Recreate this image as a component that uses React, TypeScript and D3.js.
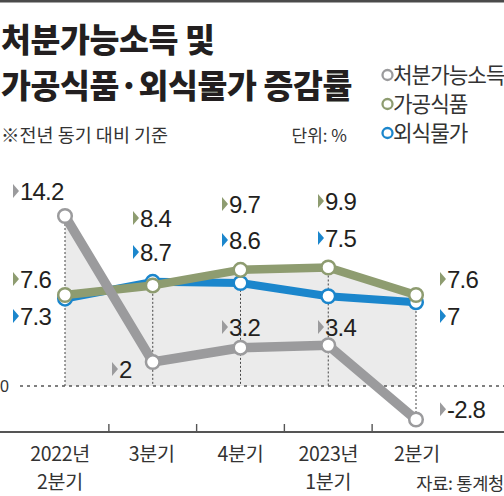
import React from "react";
import * as d3 from "d3";

// ---- data ----
const categoryKeys = ["2022Q2", "2022Q3", "2022Q4", "2023Q1", "2023Q2"];
const categoryLabels = [["2022년", "2분기"], ["3분기"], ["4분기"], ["2023년", "1분기"], ["2분기"]];
const incomeValues = [14.2, 2, 3.2, 3.4, -2.8];
const processedFoodValues = [7.6, 8.4, 9.7, 9.9, 7.6];
const diningOutValues = [7.3, 8.7, 8.6, 7.5, 7];
const seriesNames = ["처분가능소득", "가공식품", "외식물가"];
const titleLines = ["처분가능소득 및", "가공식품·외식물가 증감률"];
const subtitle = "※전년 동기 대비 기준";
const unitText = "단위: %";
const sourceText = "자료: 통계청";

// ---- layout (label offsets relative to each point: [dx, baseline dy]) ----
const incomeLabelOffsets = [[-52, -16], [-40.75, 16], [-18.5, -11.7], [-10.25, -9.3], [24, -1.2]];
const processedLabelOffsets = [[-52, -7], [-19.75, -58.4], [-18.5, -56.9], [-10.25, -57.5], [24, -7]];
const diningLabelOffsets = [[-52, 26.4], [-19.75, -20.8], [-18.5, -34], [-10.25, -49.2], [24, 22.8]];
const categoryLabelDx = [-5, -1, 0, 0, 1];

const KR = "'Noto Sans CJK KR', 'Noto Sans', sans-serif";
const NUM = "'Liberation Sans', Arial, sans-serif";

const W = 504;
const H = 496;

type Series = { name: string; values: number[]; color: string; width: number; offsets: number[][] };

export default function App() {
  const x = d3.scalePoint<string>().domain(categoryKeys).range([65, 416]);
  const y = d3.scaleLinear().domain([0, 14.2]).range([386, 216]);
  const y0 = y(0);
  const px = (i: number) => x(categoryKeys[i]) as number;

  const series: Series[] = [
    { name: seriesNames[2], values: diningOutValues, color: "#1b86cc", width: 8, offsets: diningLabelOffsets },
    { name: seriesNames[1], values: processedFoodValues, color: "#8e9c70", width: 8.5, offsets: processedLabelOffsets },
    { name: seriesNames[0], values: incomeValues, color: "#9b9b9d", width: 9.5, offsets: incomeLabelOffsets },
  ];
  const legend = [series[2], series[1], series[0]];

  const line = d3
    .line<number>()
    .x((_, i) => px(i))
    .y((d) => y(d));
  const area = d3
    .area<number>()
    .x((_, i) => px(i))
    .y0(y0)
    .y1((d) => y(d));

  const allSeries = [incomeValues, processedFoodValues, diningOutValues];
  const verticals = categoryKeys.map((_, i) => {
    const ys = allSeries.map((s) => y(s[i]));
    return { x: px(i), top: Math.min(...ys), bottom: Math.max(y0, ...ys) };
  });
  const ticks = categoryKeys.slice(0, -1).map((_, i) => (px(i) + px(i + 1)) / 2);
  const axisY = 432;

  return (
    <svg
      width={W}
      height={H}
      viewBox={`0 0 ${W} ${H}`}
      style={{ position: "absolute", left: 0, top: 0, background: "#fff" }}
    >
      <rect x={0} y={0} width={W} height={H} fill="#fff" />
      <rect x={0} y={0} width={W} height={2.5} fill="#4a4a4a" />

      {/* title */}
      {titleLines.map((t, i) => (
        <text
          key={t}
          x={1}
          y={52 + i * 46}
          fontFamily={KR}
          fontWeight={900}
          fontSize={32.5}
          letterSpacing={-0.4}
          fill="#231f20"
        >
          {t}
        </text>
      ))}
      <text x={1} y={142} fontFamily={KR} fontSize={18.5} letterSpacing={0} fill="#333">
        {subtitle}
      </text>
      <text x={347} y={142} textAnchor="end" fontFamily={KR} fontSize={17} fill="#333">
        {unitText}
      </text>

      {/* legend */}
      {legend.map((s, i) => (
        <g key={s.name} transform={`translate(0, ${75 + i * 29})`}>
          <circle cx={387.5} cy={0} r={5} fill="#fff" stroke={s.color} strokeWidth={2.3} />
          <text x={393} y={8} fontFamily={KR} fontSize={21.3} letterSpacing={-1} fill="#333">
            {s.name}
          </text>
        </g>
      ))}

      {/* shaded area */}
      <defs>
        <clipPath id="aboveZero">
          <rect x={0} y={0} width={W} height={y0} />
        </clipPath>
      </defs>
      <g clipPath="url(#aboveZero)">
        {allSeries.map((s, i) => (
          <path key={i} d={area(s) || ""} fill="#ebebeb" />
        ))}
      </g>

      {/* vertical dotted guides */}
      {verticals.map((v, i) => (
        <line
          key={i}
          x1={v.x}
          x2={v.x}
          y1={v.top}
          y2={v.bottom}
          stroke="#444"
          strokeWidth={1}
          strokeDasharray="2 2"
        />
      ))}

      {/* zero line */}
      <line x1={20} x2={W} y1={y0} y2={y0} stroke="#555" strokeWidth={1.4} strokeDasharray="3 4" />
      <text x={0} y={y0 + 6} fontFamily={NUM} fontSize={16} fill="#333">
        0
      </text>

      {/* x axis */}
      <line x1={0} x2={W} y1={axisY} y2={axisY} stroke="#555" strokeWidth={2} />
      {ticks.map((t, i) => (
        <line key={i} x1={t} x2={t} y1={axisY - 8} y2={axisY} stroke="#555" strokeWidth={1.4} />
      ))}
      {categoryLabels.map((lines, i) =>
        lines.map((l, j) => (
          <text
            key={`${i}-${j}`}
            x={px(i) + categoryLabelDx[i]}
            y={461 + j * 27.5}
            textAnchor="middle"
            fontFamily={KR}
            fontSize={19.5}
            letterSpacing={-0.3}
            fill="#333"
          >
            {l}
          </text>
        ))
      )}
      <text x={504} y={490} textAnchor="end" fontFamily={KR} fontSize={17.6} letterSpacing={-0.3} fill="#333">
        {sourceText}
      </text>

      {/* series lines and markers */}
      {series.map((s) => (
        <g key={s.name}>
          <path
            d={line(s.values) || ""}
            fill="none"
            stroke={s.color}
            strokeWidth={s.width}
            strokeLinejoin="round"
          />
          {s.values.map((v, i) => (
            <circle key={i} cx={px(i)} cy={y(v)} r={6.8} fill="#fff" stroke={s.color} strokeWidth={2.5} />
          ))}
        </g>
      ))}

      {/* value labels */}
      {series.map((s) =>
        s.values.map((v, i) => {
          const tx = px(i) + s.offsets[i][0];
          const by = y(v) + s.offsets[i][1];
          const cy = by - 9;
          return (
            <g key={`${s.name}-${i}`}>
              <path d={`M${tx},${cy - 7}L${tx + 6},${cy}L${tx},${cy + 7}Z`} fill={s.color} />
              <text x={tx + 7} y={by} fontFamily={NUM} fontSize={24} letterSpacing={-0.8} fill="#231f20">
                {String(v)}
              </text>
            </g>
          );
        })
      )}
    </svg>
  );
}
